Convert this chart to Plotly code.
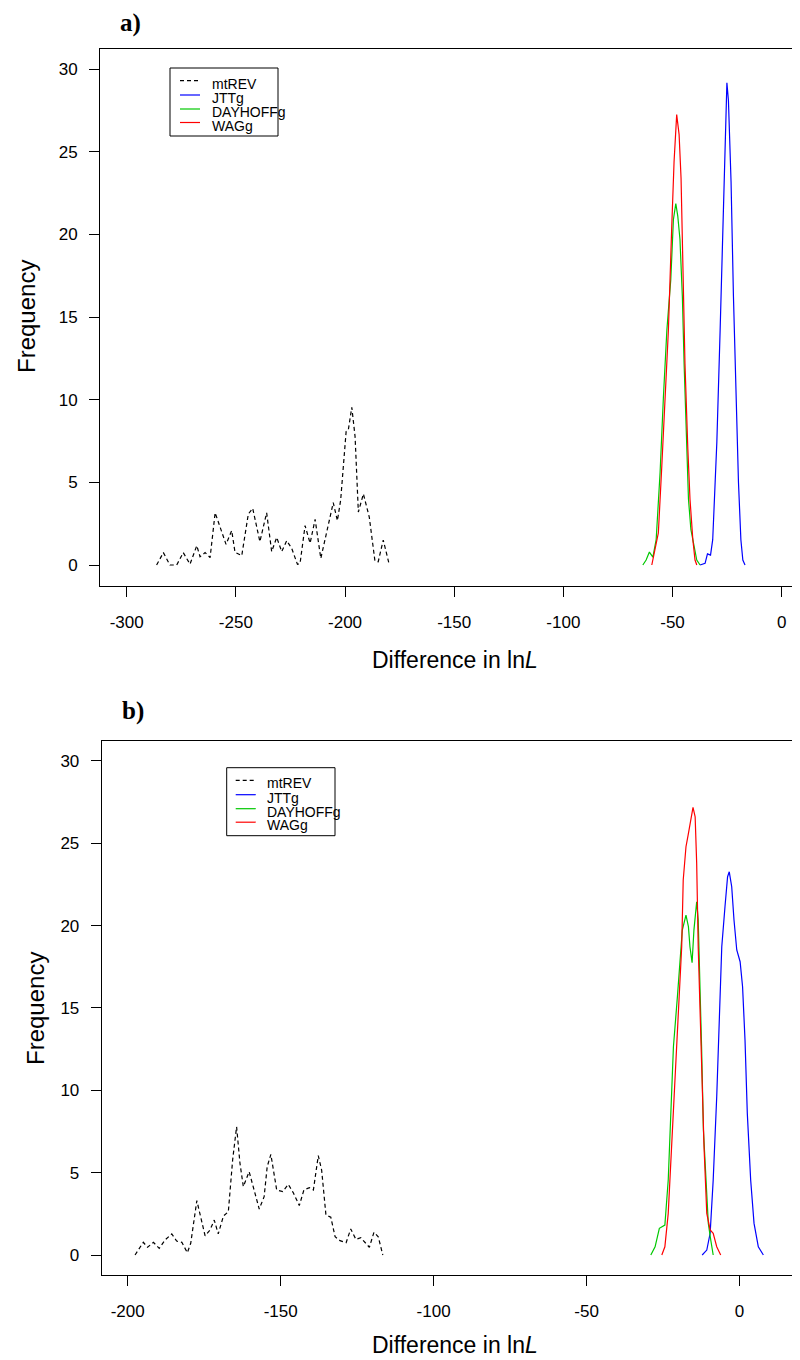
import plotly.graph_objects as go

# ---------------- Panel a data ----------------
a_mtrev_x = [-286.3, -283.2, -280.2, -277.1, -274.1, -271.0, -267.9, -266.4, -264.1, -261.8,
             -259.5, -257.3, -254.5, -251.9, -250.4, -247.3, -244.3, -242.3, -239.0, -235.9,
             -233.6, -231.3, -229.0, -226.7, -224.4, -221.8, -220.6, -218.3, -216.0, -213.7,
             -211.1, -208.7, -205.4, -203.5, -202.0, -199.5, -198.5, -196.9, -195.4, -193.9,
             -191.6, -188.9, -186.3, -184.8, -182.5, -179.7]
a_mtrev_y = [0.0, 0.75, 0.0, 0.0, 0.75, 0.05, 1.17, 0.5, 0.75, 0.45,
             3.16, 2.32, 1.25, 2.08, 0.77, 0.57, 3.08, 3.43, 1.41, 3.16,
             0.81, 1.67, 0.81, 1.47, 1.0, 0.04, 0.1, 2.38, 1.32, 2.76,
             0.4, 1.81, 3.77, 2.68, 3.93, 8.07, 8.17, 9.54, 7.76, 3.2,
             4.3, 2.9, 0.24, 0.2, 1.51, 0.0]

a_jtt_x = [-37.4, -35.1, -34.0, -32.6, -31.6, -29.7, -28.2, -27.0, -25.9, -25.1,
           -24.4, -23.2, -22.1, -20.9, -19.8, -18.7, -17.8, -16.8]
a_jtt_y = [0.0, 0.1, 0.67, 0.6, 1.53, 7.45, 14.2, 20.3, 26.46, 29.16,
           28.1, 23.2, 16.24, 10.1, 5.0, 1.53, 0.3, 0.0]

a_dayhoff_x = [-63.6, -62.1, -60.6, -59.0, -57.5, -55.7, -54.2, -52.6, -50.8, -49.6,
               -48.5, -47.6, -46.6, -45.5, -44.7, -43.8, -42.7, -41.6, -40.4, -38.9, -37.4]
a_dayhoff_y = [0.0, 0.3, 0.78, 0.48, 1.53, 5.6, 10.1, 14.2, 17.27, 20.9,
               21.86, 21.1, 19.7, 16.24, 12.16, 8.07, 3.98, 2.15, 1.33, 0.3, 0.0]

a_wag_x = [-59.5, -58.0, -56.5, -54.9, -53.4, -51.9, -50.4, -49.3, -48.1, -47.0,
           -46.1, -45.3, -44.3, -43.0, -42.0, -40.7, -39.7, -38.9]
a_wag_y = [0.0, 0.91, 1.94, 6.03, 10.1, 14.2, 20.3, 24.4, 27.24, 26.05,
           23.4, 18.3, 12.16, 7.05, 3.98, 1.53, 0.3, 0.0]

# ---------------- Panel b data ----------------
b_mtrev_x = [-197.6, -194.9, -193.5, -191.6, -189.7, -187.8, -185.6, -184.0, -182.3, -180.5,
             -179.4, -177.4, -174.7, -173.1, -171.7, -170.4, -168.7, -167.1, -165.7, -164.4,
             -163.3, -162.2, -160.3, -158.7, -157.0, -155.4, -154.4, -153.2, -151.3, -149.3,
             -147.5, -145.9, -143.9, -142.4, -140.6, -139.3, -137.7, -136.6, -135.2, -133.6,
             -132.2, -130.6, -128.6, -127.1, -125.4, -123.8, -121.0, -119.5, -118.1, -116.6]
b_mtrev_y = [0.0, 0.77, 0.47, 0.77, 0.4, 0.91, 1.28, 0.85, 0.77, 0.14,
             0.71, 3.3, 1.17, 1.52, 2.12, 1.28, 2.37, 2.63, 5.77, 7.79,
             5.57, 4.15, 5.06, 3.95, 2.79, 3.54, 5.36, 6.11, 3.95, 3.85,
             4.29, 3.79, 3.0, 3.95, 4.09, 3.95, 6.03, 5.16, 2.43, 2.29,
             1.11, 0.87, 0.75, 1.58, 0.95, 1.05, 0.47, 1.38, 1.11, 0.0]

b_jtt_x = [-12.2, -10.7, -9.6, -8.6, -7.45, -6.6, -5.8, -4.75, -3.9, -3.35,
           -2.55, -1.8, -0.9, 0.2, 1.0, 1.8, 2.55, 3.65, 4.75, 6.15, 7.8]
b_jtt_y = [0.0, 0.3, 1.32, 4.55, 9.61, 14.67, 18.72, 21.15, 22.97, 23.27,
           22.36, 20.34, 18.52, 17.81, 16.29, 13.05, 8.6, 4.55, 1.92, 0.5, 0.0]

b_dayhoff_x = [-29.0, -27.6, -26.2, -24.4, -23.3, -22.5, -21.6, -20.3, -19.5, -18.7,
               -17.5, -16.7, -16.2, -15.5, -14.9, -14.0, -13.5, -12.9, -12.4, -11.8,
               -10.95, -10.2, -9.4, -8.6]
b_dayhoff_y = [0.0, 0.5, 1.62, 1.82, 4.55, 8.6, 12.65, 15.69, 17.71, 19.73,
               20.64, 19.94, 18.72, 17.75, 19.73, 21.45, 20.34, 16.7, 12.65, 7.59,
               4.55, 1.92, 0.91, 0.0]

b_wag_x = [-25.4, -24.4, -23.3, -22.2, -21.1, -20.0, -18.9, -18.4, -17.5, -16.8,
           -16.0, -15.2, -14.5, -14.0, -13.5, -12.9, -12.4, -11.6, -10.7, -9.6,
           -8.6, -7.45, -6.15]
b_wag_y = [0.0, 0.5, 2.53, 6.58, 10.63, 14.67, 18.72, 22.77, 24.79, 25.5,
           26.41, 27.18, 26.61, 23.78, 18.72, 14.67, 10.63, 6.58, 2.53, 1.52,
           1.32, 0.5, 0.0]

series_names = ["mtREV", "JTTg", "DAYHOFFg", "WAGg"]
series_colors = ["#000000", "#0000FF", "#00C800", "#FF0000"]
series_dash = ["4px,3px", "solid", "solid", "solid"]

a_xticks = [-300, -250, -200, -150, -100, -50, 0]
b_xticks = [-200, -150, -100, -50, 0]
yticks = [0, 5, 10, 15, 20, 25, 30]

# The page body has an 8px margin: the figure is drawn 8px in from the window corner.
OFF = 8
W, H = 800 - OFF, 1360 - OFF
def PX(v): return (v - OFF) / W
def PY(v): return 1 - (v - OFF) / H

fig = go.Figure()

panels = [
    ("x", "y", [(a_mtrev_x, a_mtrev_y), (a_jtt_x, a_jtt_y), (a_dayhoff_x, a_dayhoff_y), (a_wag_x, a_wag_y)]),
    ("x2", "y2", [(b_mtrev_x, b_mtrev_y), (b_jtt_x, b_jtt_y), (b_dayhoff_x, b_dayhoff_y), (b_wag_x, b_wag_y)]),
]
for xa, ya, data in panels:
    for (xs, ys), nm, col, dsh in zip(data, series_names, series_colors, series_dash):
        fig.add_trace(go.Scatter(x=xs, y=ys, mode="lines", name=nm, xaxis=xa, yaxis=ya,
                                 line=dict(color=col, width=1.2, dash=dsh),
                                 showlegend=False, hoverinfo="skip"))

tickfont = dict(family="Liberation Sans, Arial, sans-serif", size=17, color="black")
common_ax = dict(ticks="outside", ticklen=10, tickwidth=1, tickcolor="black",
                 showline=True, linecolor="black", linewidth=1, showgrid=False,
                 zeroline=False, tickfont=tickfont)

fig.update_layout(
    width=W, height=H,
    margin=dict(l=0, r=0, t=0, b=0),
    paper_bgcolor="white", plot_bgcolor="white",
    showlegend=False,
    xaxis=dict(domain=[PX(100), 1.0], range=[-312.23, 8.38], anchor="y",
               tickvals=a_xticks, ticktext=[str(v) for v in a_xticks],
               mirror=True, ticklabelstandoff=11, **common_ax),
    yaxis=dict(domain=[PY(585.5), PY(49)], range=[-1.24, 31.21], anchor="x",
               tickvals=yticks, ticktext=[str(v) for v in yticks],
               mirror=False, ticklabelstandoff=8, **common_ax),
    xaxis2=dict(domain=[PX(101.7), PX(795)], range=[-208.5, 18.14], anchor="y2",
                tickvals=b_xticks, ticktext=[str(v) for v in b_xticks],
                mirror=True, ticklabelstandoff=11, **common_ax),
    yaxis2=dict(domain=[PY(1275), PY(740.7)], range=[-1.214, 31.23], anchor="x2",
                tickvals=yticks, ticktext=[str(v) for v in yticks],
                mirror=True, ticklabelstandoff=8, **common_ax),
)

annotations = []
shapes = []
ytitle_font = dict(family="Liberation Sans, Arial, sans-serif", size=24, color="black")
xtitle_font = dict(family="Liberation Sans, Arial, sans-serif", size=23, color="black")
label_font = dict(family="Liberation Serif, Times New Roman, serif", size=25, color="black")

# Panel labels
annotations.append(dict(x=PX(130), y=PY(8), xref="paper", yref="paper", text="<b>a)</b>",
                        showarrow=False, xanchor="center", yanchor="top", borderpad=0,
                        font=label_font))
annotations.append(dict(x=PX(133), y=PY(711), xref="paper", yref="paper", text="<b>b)</b>",
                        showarrow=False, xanchor="center", yanchor="middle", font=label_font))

# Axis titles
for yc, xc in [(317, 27), (1008, 35)]:
    annotations.append(dict(x=PX(xc), y=PY(yc), xref="paper", yref="paper", text="Frequency",
                            showarrow=False, textangle=-90, xanchor="center", yanchor="middle",
                            font=ytitle_font))
for xc, yc in [(455, 660), (455, 1345)]:
    annotations.append(dict(x=PX(xc), y=PY(yc), xref="paper", yref="paper",
                            text="Difference in ln<i>L</i>",
                            showarrow=False, xanchor="center", yanchor="middle", font=xtitle_font))

# Legends (manual, R-style)
for (bx0, bx1, by0, lx0, lx1, tx) in [(170, 278, 68, 180, 200, 210), (226.7, 335, 767.7, 235.7, 255.7, 265)]:
    shapes.append(dict(type="rect", xref="paper", yref="paper",
                       x0=PX(bx0), x1=PX(bx1), y0=PY(by0), y1=PY(by0 + 68),
                       line=dict(color="black", width=1), fillcolor="white", layer="above"))
    offsets = [12.7, 27, 41, 54.5]
    for off, nm, col, dsh in zip(offsets, series_names, series_colors, series_dash):
        ly = by0 + off
        shapes.append(dict(type="line", xref="paper", yref="paper",
                           x0=PX(lx0), x1=PX(lx1), y0=PY(ly), y1=PY(ly),
                           line=dict(color=col, width=1.2, dash=dsh), layer="above"))
        annotations.append(dict(x=PX(tx), y=PY(ly + 3), xref="paper", yref="paper", text=nm,
                                showarrow=False, xanchor="left", yanchor="middle",
                                font=dict(family="Liberation Sans, Arial, sans-serif", size=14, color="black")))

fig.update_layout(annotations=annotations, shapes=shapes)
fig.write_html("out.html")
